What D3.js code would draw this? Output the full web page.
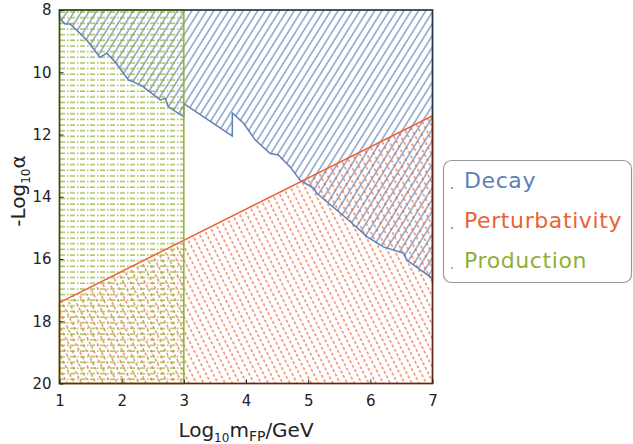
<!DOCTYPE html>
<html>
<head>
<meta charset="utf-8">
<script src="https://cdn.jsdelivr.net/npm/d3@7"></script>
<style>
body { margin: 0; background: #fff; }
text { font-family: "DejaVu Sans", sans-serif; }
</style>
</head>
<body>
<div id="chart"></div>
<script>
// decay boundary (region above the curve is excluded)
var decayX = [1.0, 1.09, 1.17, 1.33, 1.46, 1.65, 1.76, 1.87, 2.11, 2.19, 2.35, 2.62, 2.70, 2.75, 2.98, 3.0, 3.0,
	3.78, 3.78, 3.96, 4.15, 4.39, 4.52, 4.71, 4.87, 5.09, 5.14, 5.62, 5.95, 6.21, 6.54, 6.59, 6.97, 7.0];
var decayY = [8.27, 8.45, 8.45, 8.75, 9.02, 9.52, 9.39, 9.61, 10.25, 10.31, 10.47, 10.89, 10.84, 11.11, 11.41, 11.42, 11.01,
	12.05, 11.31, 11.64, 12.18, 12.61, 12.66, 13.04, 13.47, 13.73, 13.89, 14.70, 15.29, 15.61, 15.82, 16.04, 16.58, 16.68];

// perturbativity boundary (straight line)
var pertX = [1, 7];
var pertY = [17.4, 11.4];

// production limit
var prodMax = 3;

var xTicks = [1, 2, 3, 4, 5, 6, 7];
var yTicks = [8, 10, 12, 14, 16, 18, 20];

var legendNames = ["Decay", "Perturbativity", "Production"];
var legendColors = ["#5E81B5", "#EB6235", "#8FB032"];

var width = 633, height = 444;

var x = d3.scaleLinear().domain([1, 7]).range([59.5, 432.5]);
var y = d3.scaleLinear().domain([8, 20]).range([10, 383.5]);

var svg = d3.select("#chart").append("svg")
	.attr("width", width)
	.attr("height", height);

var defs = svg.append("defs");

// blue "/" hatching
var pb = defs.append("pattern")
	.attr("id", "hatchBlue")
	.attr("patternUnits", "userSpaceOnUse")
	.attr("width", 6.2).attr("height", 10)
	.attr("patternTransform", "rotate(32)");
pb.append("line")
	.attr("x1", 1).attr("x2", 1).attr("y1", -1).attr("y2", 11)
	.attr("stroke", legendColors[0]).attr("stroke-width", 1.1);

// red dashed "\" hatching
var pr = defs.append("pattern")
	.attr("id", "hatchRed")
	.attr("patternUnits", "userSpaceOnUse")
	.attr("width", 6.4).attr("height", 10)
	.attr("patternTransform", "rotate(-27)");
pr.append("line")
	.attr("x1", 1).attr("x2", 1).attr("y1", 0).attr("y2", 10)
	.attr("stroke", legendColors[1]).attr("stroke-width", 1.1)
	.attr("stroke-dasharray", "3,2");

// green dash-dot horizontal hatching
var pg = defs.append("pattern")
	.attr("id", "hatchGreen")
	.attr("patternUnits", "userSpaceOnUse")
	.attr("width", 10).attr("height", 5.65)
	.attr("y", y(8) + 1);
pg.append("line")
	.attr("x1", 0).attr("x2", 10).attr("y1", 1).attr("y2", 1)
	.attr("stroke", legendColors[2]).attr("stroke-width", 1.1)
	.attr("stroke-dasharray", "5,2,1.5,1.5");

var line = d3.line().x(function(d){ return x(d[0]); }).y(function(d){ return y(d[1]); });

// decay region
var decayPts = decayX.map(function(v, i){ return [v, decayY[i]]; });
var decayPoly = decayPts.concat([[7, 8], [1, 8]]);
svg.append("path")
	.attr("d", line(decayPoly) + "Z")
	.attr("fill", "url(#hatchBlue)");

// perturbativity region
var pertPoly = [[pertX[0], pertY[0]], [pertX[1], pertY[1]], [7, 20], [1, 20]];
svg.append("path")
	.attr("d", line(pertPoly) + "Z")
	.attr("fill", "url(#hatchRed)");

// production region
var prodPoly = [[1, 8], [prodMax, 8], [prodMax, 20], [1, 20]];
svg.append("path")
	.attr("d", line(prodPoly) + "Z")
	.attr("fill", "url(#hatchGreen)");

// boundaries
svg.append("path")
	.attr("d", line(decayPoly) + "Z")
	.attr("fill", "none")
	.attr("stroke", legendColors[0]).attr("stroke-width", 1.5);
svg.append("path")
	.attr("d", line(pertPoly) + "Z")
	.attr("fill", "none")
	.attr("stroke", legendColors[1]).attr("stroke-width", 1.5);
svg.append("path")
	.attr("d", line(prodPoly) + "Z")
	.attr("fill", "none")
	.attr("stroke", legendColors[2]).attr("stroke-width", 1.5);

// frame
svg.append("rect")
	.attr("x", x(1)).attr("y", y(8))
	.attr("width", x(7) - x(1)).attr("height", y(20) - y(8))
	.attr("fill", "none")
	.attr("stroke", "rgba(0,0,0,0.6)")
	.attr("stroke-width", 1.6);

// ticks
var xAxis = d3.axisBottom(x).tickValues(xTicks).tickFormat(d3.format("d")).tickSize(-4).tickPadding(12);
var yAxis = d3.axisLeft(y).tickValues(yTicks).tickFormat(d3.format("d")).tickSize(-4).tickPadding(8);

var gx = svg.append("g")
	.attr("transform", "translate(0," + y(20) + ")")
	.call(xAxis);
var gy = svg.append("g")
	.attr("transform", "translate(" + x(1) + ",0)")
	.call(yAxis);
[gx, gy].forEach(function(g){
	g.select(".domain").remove();
	g.selectAll(".tick line").attr("stroke", "#222");
	g.selectAll(".tick text").attr("fill", "#222").style("font-size", "15px");
});

// axis labels
var xl = svg.append("text")
	.attr("x", 246).attr("y", 437)
	.style("text-anchor", "middle")
	.style("font-size", "20px")
	.attr("fill", "#222");
xl.append("tspan").text("Log");
xl.append("tspan").attr("dy", 5).style("font-size", "12px").text("10");
xl.append("tspan").attr("dy", -5).text("m");
xl.append("tspan").attr("dy", 4).style("font-size", "14px").text("FP");
xl.append("tspan").attr("dy", -4).text("/GeV");

var yl = svg.append("text")
	.attr("transform", "translate(25,191) rotate(-90)")
	.style("text-anchor", "middle")
	.style("font-size", "20px")
	.attr("fill", "#222");
yl.append("tspan").text("-Log");
yl.append("tspan").attr("dy", 5).style("font-size", "12px").text("10");
yl.append("tspan").attr("dy", -5).text("α");

// legend
var lg = svg.append("g");
lg.append("rect")
	.attr("x", 443.5).attr("y", 160.5)
	.attr("width", 188).attr("height", 122)
	.attr("rx", 8)
	.attr("fill", "#fff")
	.attr("stroke", "#999").attr("stroke-width", 1.2);

var items = lg.selectAll(".legend")
	.data(legendNames)
	.enter().append("g")
	.attr("class", "legend")
	.attr("transform", function(d, i){ return "translate(0," + (188 + i * 40) + ")"; });
items.append("circle")
	.attr("cx", 452).attr("cy", 0).attr("r", 1)
	.attr("fill", function(d, i){ return legendColors[i]; });
items.append("text")
	.attr("x", 464).attr("y", 0)
	.style("font-size", "22px")
	.style("letter-spacing", "0.6px")
	.attr("fill", function(d, i){ return legendColors[i]; })
	.text(function(d){ return d; });
</script>
</body>
</html>
